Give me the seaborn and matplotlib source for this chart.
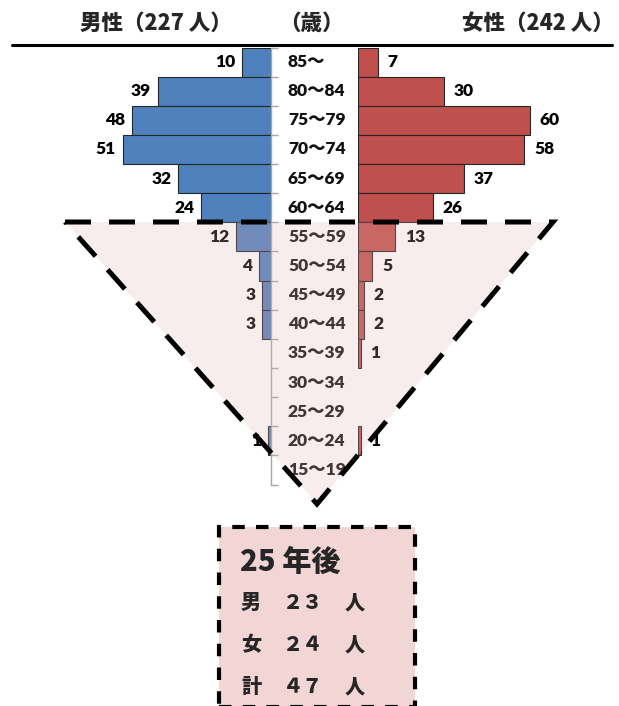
import matplotlib
matplotlib.use("Agg")
import matplotlib.pyplot as plt
import matplotlib.patches as mpatches
from matplotlib.lines import Line2D
from matplotlib.transforms import blended_transform_factory
import seaborn as sns

# データ
age_groups = ["85～", "80～84", "75～79", "70～74", "65～69", "60～64", "55～59",
              "50～54", "45～49", "40～44", "35～39", "30～34", "25～29", "20～24", "15～19"]
male_counts = [10, 39, 48, 51, 32, 24, 12, 4, 3, 3, 0, 0, 0, 1, 0]
female_counts = [7, 30, 60, 58, 37, 26, 13, 5, 2, 2, 1, 0, 0, 1, 0]
male_total = 227
female_total = 242
future_years = 25
future_rows = ["男", "女", "計"]
future_values = [23, 24, 47]

# ピクセル座標 -> figure 座標
W, H = 619, 706
def fx(x):
    return x / W
def fy(y):
    return 1 - y / H

sns.set_theme(style="white")
plt.rcParams["font.family"] = ["Lato", "Noto Sans CJK JP"]
CJK = ["Noto Sans CJK JP"]

fig = plt.figure(figsize=(6.19, 7.06), dpi=100)
row_top, row_bot = 47.5, 484.5
ax_m = fig.add_axes([fx(12), fy(row_bot), (271 - 12) / W, (row_bot - row_top) / H])
ax_f = fig.add_axes([fx(358), fy(row_bot), (612 - 358) / W, (row_bot - row_top) / H])

# 男性 (左)
sns.barplot(x=male_counts, y=age_groups, orient="h", color="#4F81BD", saturation=1,
            width=1.0, edgecolor="#262626", linewidth=0.8, ax=ax_m)
# 女性 (右)
sns.barplot(x=female_counts, y=age_groups, orient="h", color="#C0504D", saturation=1,
            width=1.0, edgecolor="#262626", linewidth=0.8, ax=ax_f)

n = len(age_groups)
for ax in (ax_m, ax_f):
    for p in ax.patches:
        if p.get_width() == 0:
            p.set_visible(False)
    ax.set_ylim(n - 0.5, -0.5)
    ax.set_xlabel("")
    ax.set_ylabel("")
    ax.set_xticks([])
    ax.patch.set_alpha(0)
    for s in ax.spines.values():
        s.set_visible(False)

ax_m.set_xlim(259 / 2.9, 0)
ax_f.set_xlim(0, 254 / 2.87)

# 男性側の軸線と目盛
ax_m.spines["right"].set_visible(True)
ax_m.spines["right"].set_color("#a6a6a6")
ax_m.spines["right"].set_linewidth(1)
ax_m.set_yticks([i - 0.5 for i in range(n + 1)], labels=[""] * (n + 1))
ax_m.tick_params(axis="y", left=False, right=True, labelleft=False, labelright=False,
                 length=5, width=1, color="#a6a6a6", direction="out")
ax_f.set_yticks([])

# 数値ラベル
ax_m.bar_label(ax_m.containers[0], labels=[str(v) if v else "" for v in male_counts],
               padding=5, fontsize=12.5, fontweight="heavy", color="black")
ax_f.bar_label(ax_f.containers[0], labels=[str(v) if v else "" for v in female_counts],
               padding=7, fontsize=12.5, fontweight="heavy", color="black")

# 年齢ラベル (中央)
trans = blended_transform_factory(fig.transFigure, ax_m.transData)
for i, lab in enumerate(age_groups):
    ax_m.text(fx(288), i, lab, transform=trans, ha="left", va="center",
              fontsize=12.5, fontweight="heavy", color="#111111", clip_on=False)

# 見出し
head_kw = dict(ha="center", va="center", fontsize=15.5, fontweight="heavy", family=CJK)
fig.text(fx(156), fy(23), f"男性（{male_total} 人）", **head_kw)
fig.text(fx(311), fy(23), "（歳）", **head_kw)
fig.text(fx(538), fy(23), f"女性（{female_total} 人）", **head_kw)
fig.add_artist(Line2D([fx(12), fx(612)], [fy(45), fy(45)], color="black", lw=2.2))

# 逆三角形
tri = [(65, 222), (553, 222), (317, 504)]
fig.add_artist(mpatches.Polygon([(fx(x), fy(y)) for x, y in tri], closed=True,
                                transform=fig.transFigure, facecolor=(229 / 255, 180 / 255, 180 / 255, 0.23),
                                edgecolor="none", zorder=10))
tx = [fx(x) for x, _ in tri] + [fx(tri[0][0])]
ty = [fy(y) for _, y in tri] + [fy(tri[0][1])]
fig.add_artist(Line2D(tx, ty, color="black", lw=3.6, linestyle=(0, (5.2, 3.6)),
                      solid_joinstyle="miter", dash_joinstyle="miter", zorder=11))

# 25年後の箱
fig.add_artist(mpatches.Rectangle((fx(219), fy(707)), (415 - 219) / W, (707 - 527) / H,
                                  transform=fig.transFigure, facecolor="#F2D6D6",
                                  edgecolor="black", lw=3, linestyle=(0, (3, 2.7)), zorder=5))
fig.text(fx(240), fy(562), f"{future_years} 年後", ha="left", va="center",
         fontsize=21, fontweight="heavy", family=CJK, zorder=6)

fw = str.maketrans("0123456789", "０１２３４５６７８９")
box_kw = dict(ha="left", va="center", fontsize=14.5, fontweight="heavy", family=CJK, zorder=6)
for lab, val, y in zip(future_rows, future_values, [603, 645, 687]):
    fig.text(fx(241), fy(y), lab, **box_kw)
    fig.text(fx(283), fy(y), str(val).translate(fw), **box_kw)
    fig.text(fx(345), fy(y), "人", **box_kw)

fig.savefig("out.png", dpi=100)
